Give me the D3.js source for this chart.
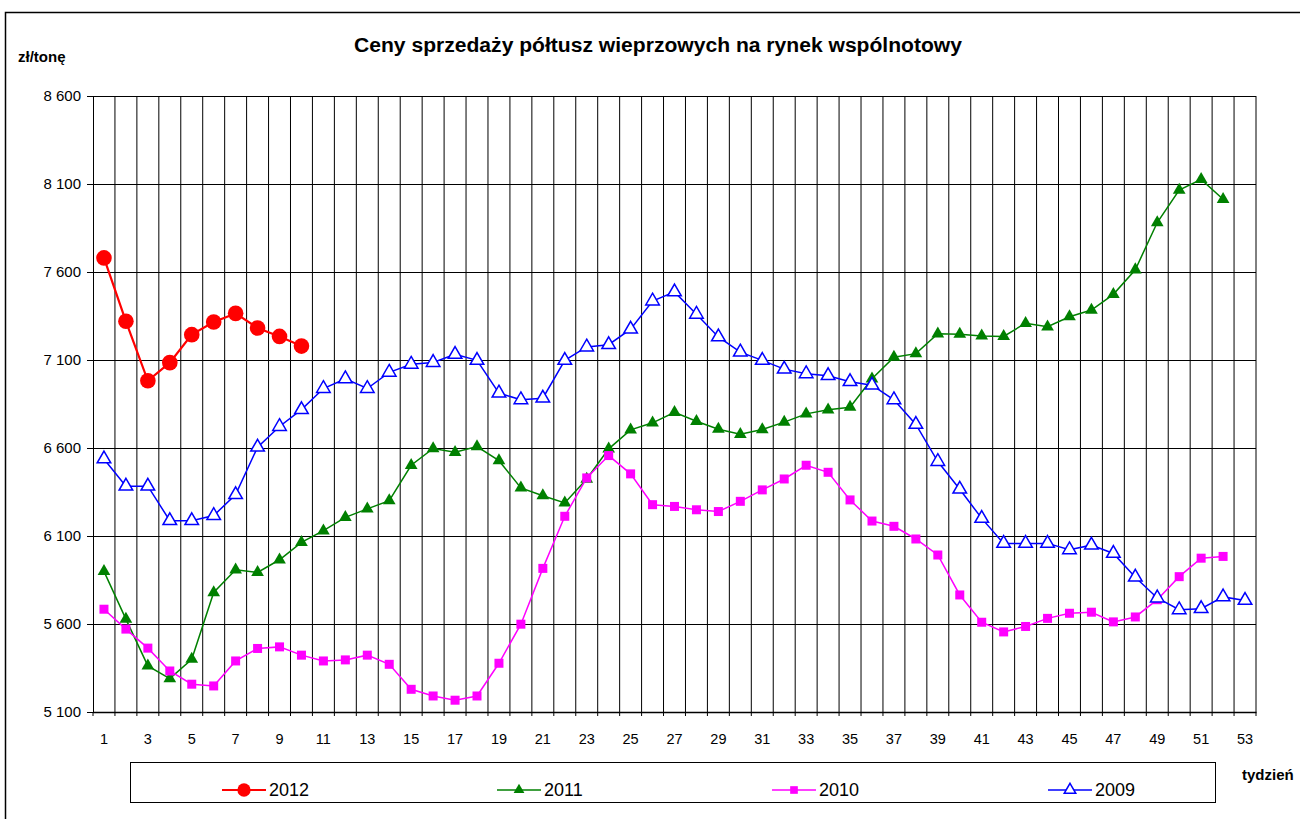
<!DOCTYPE html>
<html>
<head>
<meta charset="utf-8">
<script src="https://cdn.jsdelivr.net/npm/d3@7"></script>
<style>
  body { margin: 0; background: #fff; }
  svg { font-family: "Liberation Sans", Arial, sans-serif; }
</style>
</head>
<body>
<svg id="chart" width="1300" height="819"></svg>
<script>
// weeks 1..53
var weeks = d3.range(1, 54);
var yTicks = [5100, 5600, 6100, 6600, 7100, 7600, 8100, 8600];
var xTickLabels = weeks.filter(function(w) { return w % 2 === 1; });

var s2012 = [7680, 7320, 6982, 7085, 7244, 7316, 7365, 7282, 7234, 7179];
var s2011 = [5899, 5628, 5362, 5290, 5400, 5779, 5908, 5893, 5965, 6064,
  6130, 6206, 6254, 6301, 6502, 6597, 6576, 6608, 6528, 6373,
  6329, 6288, 6424, 6595, 6703, 6743, 6803, 6752, 6707, 6678,
  6705, 6747, 6794, 6817, 6832, 6993, 7116, 7136, 7249, 7247,
  7237, 7234, 7309, 7289, 7346, 7384, 7473, 7613, 7881, 8066,
  8126, 8013];
var s2010 = [5684, 5571, 5463, 5333, 5258, 5248, 5390, 5461, 5470, 5423,
  5390, 5396, 5423, 5371, 5229, 5191, 5167, 5191, 5377, 5599,
  5916, 6212, 6430, 6557, 6453, 6278, 6268, 6249, 6239, 6297,
  6362, 6424, 6502, 6462, 6305, 6185, 6155, 6083, 5992, 5765,
  5610, 5555, 5586, 5632, 5661, 5667, 5612, 5640, 5738, 5869,
  5974, 5984];
var s2009 = [6538, 6383, 6383, 6187, 6187, 6216, 6335, 6605, 6722, 6818,
  6938, 6993, 6938, 7030, 7076, 7086, 7132, 7098, 6912, 6874,
  6883, 7098, 7174, 7187, 7275, 7435, 7487, 7360, 7231, 7145,
  7098, 7048, 7022, 7011, 6977, 6957, 6874, 6734, 6523, 6366,
  6200, 6058, 6058, 6058, 6022, 6048, 6001, 5866, 5748, 5681,
  5687, 5754, 5734];

var series = [
  {name: '2011', values: s2011, color: '#008000', marker: 'triFill', width: 1.5},
  {name: '2010', values: s2010, color: '#ff00ff', marker: 'square', width: 1.5},
  {name: '2009', values: s2009, color: '#0000ff', marker: 'triOpen', width: 1.5},
  {name: '2012', values: s2012, color: '#ff0000', marker: 'circle', width: 2.2}
];
var legendOrder = ['2012', '2011', '2010', '2009'];

(function() {
  var svg = d3.select('#chart');
  var pLeft = 93, pRight = 1256, pTop = 96, pBottom = 712;

  // outer frame
  svg.append('rect')
    .attr('x', 5.5).attr('y', 12.5).attr('width', 1310).attr('height', 830)
    .attr('fill', 'none').attr('stroke', '#000').attr('stroke-width', 1.5);

  var x = d3.scaleBand().domain(weeks).range([pLeft, pRight]).padding(0);
  var y = d3.scaleLinear().domain([5100, 8600]).range([pBottom, pTop]);
  var bw = x.bandwidth();
  function cx(i) { return x(i + 1) + bw / 2; }

  // vertical gridlines at week boundaries (with little ticks below axis)
  svg.append('g').selectAll('line')
    .data(weeks.slice(1))
    .enter().append('line')
    .attr('x1', function(w) { return x(w); })
    .attr('x2', function(w) { return x(w); })
    .attr('y1', pTop).attr('y2', pBottom + 4)
    .attr('stroke', '#000').attr('stroke-width', 1);

  // horizontal gridlines
  svg.append('g').selectAll('line')
    .data(yTicks)
    .enter().append('line')
    .attr('x1', pLeft).attr('x2', pRight)
    .attr('y1', function(d) { return Math.round(y(d)) + 0.5; })
    .attr('y2', function(d) { return Math.round(y(d)) + 0.5; })
    .attr('stroke', '#000').attr('stroke-width', 1);

  // right border of plot
  svg.append('line')
    .attr('x1', pRight).attr('x2', pRight).attr('y1', pTop).attr('y2', pBottom + 4)
    .attr('stroke', '#000');

  // y axis
  var fmt = function(d) { return d3.format(',')(d).replace(',', ' '); };
  var yAxis = svg.append('g')
    .attr('transform', 'translate(' + pLeft + ',0)')
    .call(d3.axisLeft(y).tickValues(yTicks).tickSize(6).tickSizeOuter(0).tickFormat(fmt));
  yAxis.selectAll('text').attr('font-size', 15).attr('fill', '#000')
    .attr('font-family', '"Liberation Sans", Arial, sans-serif').attr('dx', -3);
  yAxis.selectAll('line, path').attr('stroke', '#000');

  // x axis line + labels
  svg.append('line')
    .attr('x1', pLeft).attr('x2', pRight + 0.5)
    .attr('y1', pBottom + 0.5).attr('y2', pBottom + 0.5)
    .attr('stroke', '#000').attr('stroke-width', 1.5);
  svg.append('line')
    .attr('x1', pLeft).attr('x2', pLeft).attr('y1', pBottom).attr('y2', pBottom + 4)
    .attr('stroke', '#000');
  svg.append('g').selectAll('text')
    .data(xTickLabels)
    .enter().append('text')
    .attr('x', function(w) { return x(w) + bw / 2; })
    .attr('y', 744)
    .attr('text-anchor', 'middle')
    .attr('font-size', 14.5)
    .text(function(w) { return w; });

  // markers
  function drawMarker(g, type, color, px, py, scale) {
    scale = scale || 1;
    if (type === 'circle') {
      g.append('circle').attr('cx', px).attr('cy', py).attr('r', 7.8 * scale).attr('fill', color);
    } else if (type === 'square') {
      var s = 9 * scale;
      g.append('rect').attr('x', px - s / 2).attr('y', py - s / 2).attr('width', s).attr('height', s).attr('fill', color);
    } else if (type === 'triFill') {
      g.append('path').attr('d', d3.symbol().type(d3.symbolTriangle).size(70 * scale * scale)())
        .attr('transform', 'translate(' + px + ',' + py + ')').attr('fill', color);
    } else if (type === 'triOpen') {
      g.append('path').attr('d', d3.symbol().type(d3.symbolTriangle).size(80 * scale * scale)())
        .attr('transform', 'translate(' + px + ',' + py + ')')
        .attr('fill', '#fff').attr('stroke', color).attr('stroke-width', 1.5);
    }
  }

  var line = d3.line()
    .x(function(d, i) { return cx(i); })
    .y(function(d) { return y(d); });

  series.forEach(function(s) {
    var g = svg.append('g');
    g.append('path').datum(s.values).attr('d', line)
      .attr('fill', 'none').attr('stroke', s.color).attr('stroke-width', s.width);
    s.values.forEach(function(v, i) { drawMarker(g, s.marker, s.color, cx(i), y(v)); });
  });

  // title & axis names
  svg.append('text').attr('x', 658).attr('y', 52).attr('text-anchor', 'middle')
    .attr('font-size', 20).attr('font-weight', 'bold')
    .attr('textLength', 608).attr('lengthAdjust', 'spacingAndGlyphs')
    .text('Ceny sprzedaży półtusz wieprzowych na rynek wspólnotowy');
  svg.append('text').attr('x', 18).attr('y', 62)
    .attr('font-size', 15).attr('font-weight', 'bold').text('zł/tonę');
  svg.append('text').attr('x', 1242).attr('y', 780)
    .attr('font-size', 15).attr('font-weight', 'bold').text('tydzień');

  // legend
  var lg = svg.append('g');
  lg.append('rect').attr('x', 130.5).attr('y', 762.5).attr('width', 1085).attr('height', 40)
    .attr('fill', '#fff').attr('stroke', '#000').attr('stroke-width', 1);
  var legendX = [222, 497, 772, 1048];
  legendOrder.forEach(function(name, k) {
    var s = series.filter(function(d) { return d.name === name; })[0];
    var lx = legendX[k], ly = 790;
    lg.append('line').attr('x1', lx).attr('x2', lx + 44).attr('y1', ly).attr('y2', ly)
      .attr('stroke', s.color).attr('stroke-width', s.width);
    drawMarker(lg, s.marker, s.color, lx + 22, ly, 0.85);
    lg.append('text').attr('x', lx + 47).attr('y', ly + 6).attr('font-size', 18).text(name);
  });
})();
</script>
</body>
</html>
